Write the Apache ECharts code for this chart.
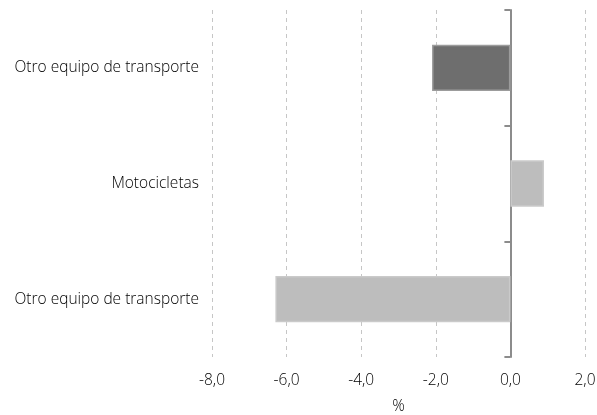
<!DOCTYPE html>
<html><head><meta charset="utf-8">
<script src="https://cdn.jsdelivr.net/npm/echarts@6/dist/echarts.min.js"></script>
<style>html,body{margin:0;padding:0;background:#fff}#c{width:597px;height:415px}</style>
</head><body><div id="c"></div>
<script>
// bottom-to-top order
var categories = ['Otro equipo de transporte', 'Motocicletas', 'Otro equipo de transporte'];
var values = [-6.3, 0.9, -2.1];
var barColors = ['#bdbdbd', '#bdbdbd', '#6e6e6e'];
var borderColors = ['#cacaca', '#cacaca', '#9c9c9c'];
var xTicks = [-8, -6, -4, -2, 0, 2];
var xTitle = '%';

var idx = categories.map(function(_, i){ return String(i); });
var chart = echarts.init(document.getElementById('c'));
var font = 'Open Sans';
var ts = {color: '#000000', fontSize: 15.5, fontFamily: font, fontWeight: 300};
chart.setOption({
  animation: false,
  grid: {left: 212, right: 12, top: 10, bottom: 58, containLabel: false, outerBoundsMode: 'none'},
  xAxis: {
    type: 'value', min: xTicks[0], max: xTicks[xTicks.length-1], interval: 2,
    name: xTitle, nameLocation: 'middle', nameGap: 42,
    nameTextStyle: ts,
    axisLine: {show: false}, axisTick: {show: false},
    axisLabel: Object.assign({margin: 16,
      formatter: function(v){ return v.toFixed(1).replace('.', ','); }}, ts),
    splitLine: {show: true, lineStyle: {color: '#c6c6c6', type: [4, 4], width: 1}}
  },
  yAxis: [{
    type: 'category', data: idx, position: 'left',
    axisLine: {show: false, onZero: false}, axisTick: {show: false},
    axisLabel: Object.assign({margin: 13,
      formatter: function(v, i){ return categories[i]; }}, ts)
  }, {
    type: 'category', data: idx, position: 'left',
    axisLine: {show: true, onZero: true, lineStyle: {color: '#8c8c8c', width: 2}},
    axisTick: {show: true, length: 6, lineStyle: {color: '#8c8c8c', width: 2}},
    axisLabel: {show: false}
  }],
  series: [{
    type: 'bar', yAxisIndex: 0, barWidth: '40%',
    data: values.map(function(v, i){
      return {value: v, itemStyle: {color: barColors[i], borderColor: borderColors[i], borderWidth: 1.5}};
    })
  }]
});
</script></body></html>
